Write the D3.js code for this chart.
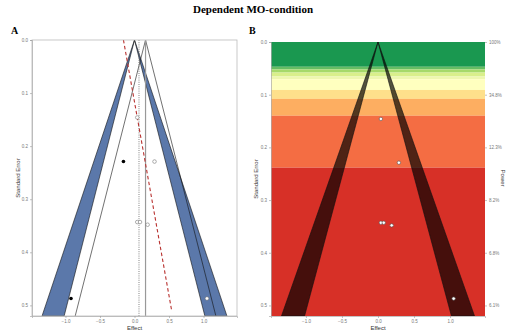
<!DOCTYPE html>
<html><head><meta charset="utf-8">
<script src="https://cdn.jsdelivr.net/npm/d3@7"></script>
<style>
body{margin:0;background:#fff}
svg{display:block;font-family:"Liberation Sans",Arial,sans-serif}
</style></head>
<body><svg id="c" width="510" height="336"></svg>
<script>
// ---- data ----
const studyEffect = [0.04, 0.29, 0.04, 0.08, 0.19, 1.05];
const studySE     = [0.146, 0.229, 0.343, 0.343, 0.348, 0.487];
const filledEffect = [-0.16, -0.92];
const filledSE     = [0.229, 0.487];
const summaryEffect = 0.16;      // original estimate
const adjustedEffect = 0.065;    // trim-and-fill estimate
const eggerIntercept = -0.16, eggerSlope = 1.37, eggerMaxSE = 0.51;
const contourZ = [1.96, 2.576];
const xTicks = [-1.0, -0.5, 0.0, 0.5, 1.0];
const yTicks = [0.0, 0.1, 0.2, 0.3, 0.4, 0.5];
const powerLabels = ["100%", "34.8%", "12.3%", "8.2%", "6.8%", "6.1%"];
const bandEdgesSE = [0, 0.047, 0.052, 0.058, 0.0655, 0.0705, 0.091, 0.108, 0.140, 0.2385, 0.52];
const bandColors = ["#1a9850","#66bd63","#a6d96a","#d9ef8b","#eef7b0","#ffffbf","#fee08b","#fdae61","#f46d43","#d73027"];
const xDomain = [-1.485, 1.485], yDomain = [0, 0.52];

const svg = d3.select("#c");
svg.append("text").attr("x",253).attr("y",13).attr("text-anchor","middle")
  .attr("font-family","Liberation Serif,Times New Roman,serif").attr("font-weight","bold")
  .attr("font-size",11).text("Dependent MO-condition");
svg.append("text").attr("x",11).attr("y",34).attr("font-family","Liberation Serif,serif")
  .attr("font-weight","bold").attr("font-size",10).text("A");
svg.append("text").attr("x",249).attr("y",34).attr("font-family","Liberation Serif,serif")
  .attr("font-weight","bold").attr("font-size",10).text("B");

function axes(g, x, y, yLabX){
  const xa = d3.axisBottom(x).tickValues(xTicks).tickFormat(d3.format(".1f")).tickSize(2).tickPadding(2);
  const ya = d3.axisLeft(y).tickValues(yTicks).tickFormat(d3.format(".1f")).tickSize(2).tickPadding(2);
  const gx = g.append("g").attr("transform",`translate(0,${y.range()[1]})`).call(xa);
  const gy = g.append("g").attr("transform",`translate(${x.range()[0]},0)`).call(ya);
  [gx,gy].forEach(a=>{
    a.selectAll("text").attr("font-size",4.5).attr("fill","#777");
    a.selectAll("line").attr("stroke","#999").attr("stroke-width",0.6);
    a.select(".domain").attr("stroke","#aaa").attr("stroke-width",0.7);
  });
  const [x0,x1]=x.range(), [y0,y1]=y.range();
  g.append("text").attr("x",(x0+x1)/2).attr("y",330).attr("text-anchor","middle")
   .attr("font-size",6).attr("fill","#333").text("Effect");
  g.append("text").attr("transform",`translate(${yLabX},${(y0+y1)/2}) rotate(-90)`)
   .attr("text-anchor","middle").attr("font-size",6).attr("fill","#333").text("Standard Error");
}

function funnelPoly(x, y, c, zi, zo, sign){
  const s = yDomain[1];
  return [[x(c),y(0)],[x(c+sign*zi*s),y(s)],[x(c+sign*zo*s),y(s)]];
}

// ---- Panel A ----
{
  const x = d3.scaleLinear().domain(xDomain).range([32,237]);
  const y = d3.scaleLinear().domain(yDomain).range([40,316]);
  const g = svg.append("g");
  g.append("rect").attr("x",32).attr("y",40).attr("width",205).attr("height",276)
   .attr("fill","#fff");
  const clip = g.append("clipPath").attr("id","ca").append("rect")
   .attr("x",32).attr("y",40).attr("width",205).attr("height",276);
  const p = g.append("g").attr("clip-path","url(#ca)");
  const line = d3.line();
  [-1,1].forEach(sg=>{
    p.append("path").attr("d",line(funnelPoly(x,y,0,contourZ[0],contourZ[1],sg))+"Z")
     .attr("fill","#5b78aa").attr("stroke","#111").attr("stroke-width",0.6);
  });
  const s = yDomain[1];
  p.append("path").attr("d",line([[x(summaryEffect-contourZ[0]*s),y(s)],[x(summaryEffect),y(0)],[x(summaryEffect+contourZ[0]*s),y(s)]]))
   .attr("fill","none").attr("stroke","#111").attr("stroke-width",0.6);
  p.append("line").attr("x1",x(summaryEffect)).attr("x2",x(summaryEffect)).attr("y1",y(0)).attr("y2",y(s))
   .attr("stroke","#999").attr("stroke-width",1.2);
  p.append("line").attr("x1",x(adjustedEffect)).attr("x2",x(adjustedEffect)).attr("y1",y(0)).attr("y2",y(s))
   .attr("stroke","#666").attr("stroke-width",0.8).attr("stroke-dasharray","1,1.2");
  p.append("line").attr("x1",x(eggerIntercept)).attr("y1",y(0))
   .attr("x2",x(eggerIntercept+eggerSlope*eggerMaxSE)).attr("y2",y(eggerMaxSE))
   .attr("stroke","#b8312f").attr("stroke-width",1.1).attr("stroke-dasharray","3.5,2.5");
  studyEffect.forEach((e,i)=>{
    p.append("circle").attr("cx",x(e)).attr("cy",y(studySE[i])).attr("r",1.8)
     .attr("fill","#fff").attr("stroke","#777").attr("stroke-width",0.6);
  });
  filledEffect.forEach((e,i)=>{
    p.append("circle").attr("cx",x(e)).attr("cy",y(filledSE[i])).attr("r",1.8).attr("fill","#000");
  });
  g.append("rect").attr("x",32).attr("y",40).attr("width",205).attr("height",276)
   .attr("fill","none").attr("stroke","#bbb").attr("stroke-width",0.8);
  axes(g,x,y,20);
}

// ---- Panel B ----
{
  const x = d3.scaleLinear().domain(xDomain).range([271,485]);
  const y = d3.scaleLinear().domain(yDomain).range([42,316]);
  const g = svg.append("g");
  g.append("clipPath").attr("id","cb").append("rect")
   .attr("x",271).attr("y",42).attr("width",214).attr("height",274);
  const p = g.append("g").attr("clip-path","url(#cb)");
  bandColors.forEach((c,i)=>{
    p.append("rect").attr("x",271).attr("width",214)
     .attr("y",y(bandEdgesSE[i])).attr("height",y(bandEdgesSE[i+1])-y(bandEdgesSE[i]))
     .attr("fill",c);
  });
  const line = d3.line();
  [-1,1].forEach(sg=>{
    p.append("path").attr("d",line(funnelPoly(x,y,0,contourZ[0],contourZ[1],sg))+"Z")
     .attr("fill","#000").attr("fill-opacity",0.68).attr("stroke","#111").attr("stroke-width",0.6);
  });
  studyEffect.forEach((e,i)=>{
    p.append("circle").attr("cx",x(e)).attr("cy",y(studySE[i])).attr("r",1.7)
     .attr("fill","#fff").attr("stroke","#555").attr("stroke-width",0.6);
  });
  axes(g,x,y,258);
  const ra = d3.axisRight(y).tickValues(yTicks).tickFormat((d,i)=>powerLabels[i]).tickSize(2).tickPadding(2);
  const gr = g.append("g").attr("transform","translate(485,0)").call(ra);
  gr.selectAll("text").attr("font-size",4.5).attr("fill","#777");
  gr.selectAll("line").attr("stroke","#999").attr("stroke-width",0.6);
  gr.select(".domain").remove();
  g.append("text").attr("transform","translate(501,178) rotate(90)").attr("text-anchor","middle")
   .attr("font-size",6).attr("fill","#333").text("Power");
}
</script></body></html>
